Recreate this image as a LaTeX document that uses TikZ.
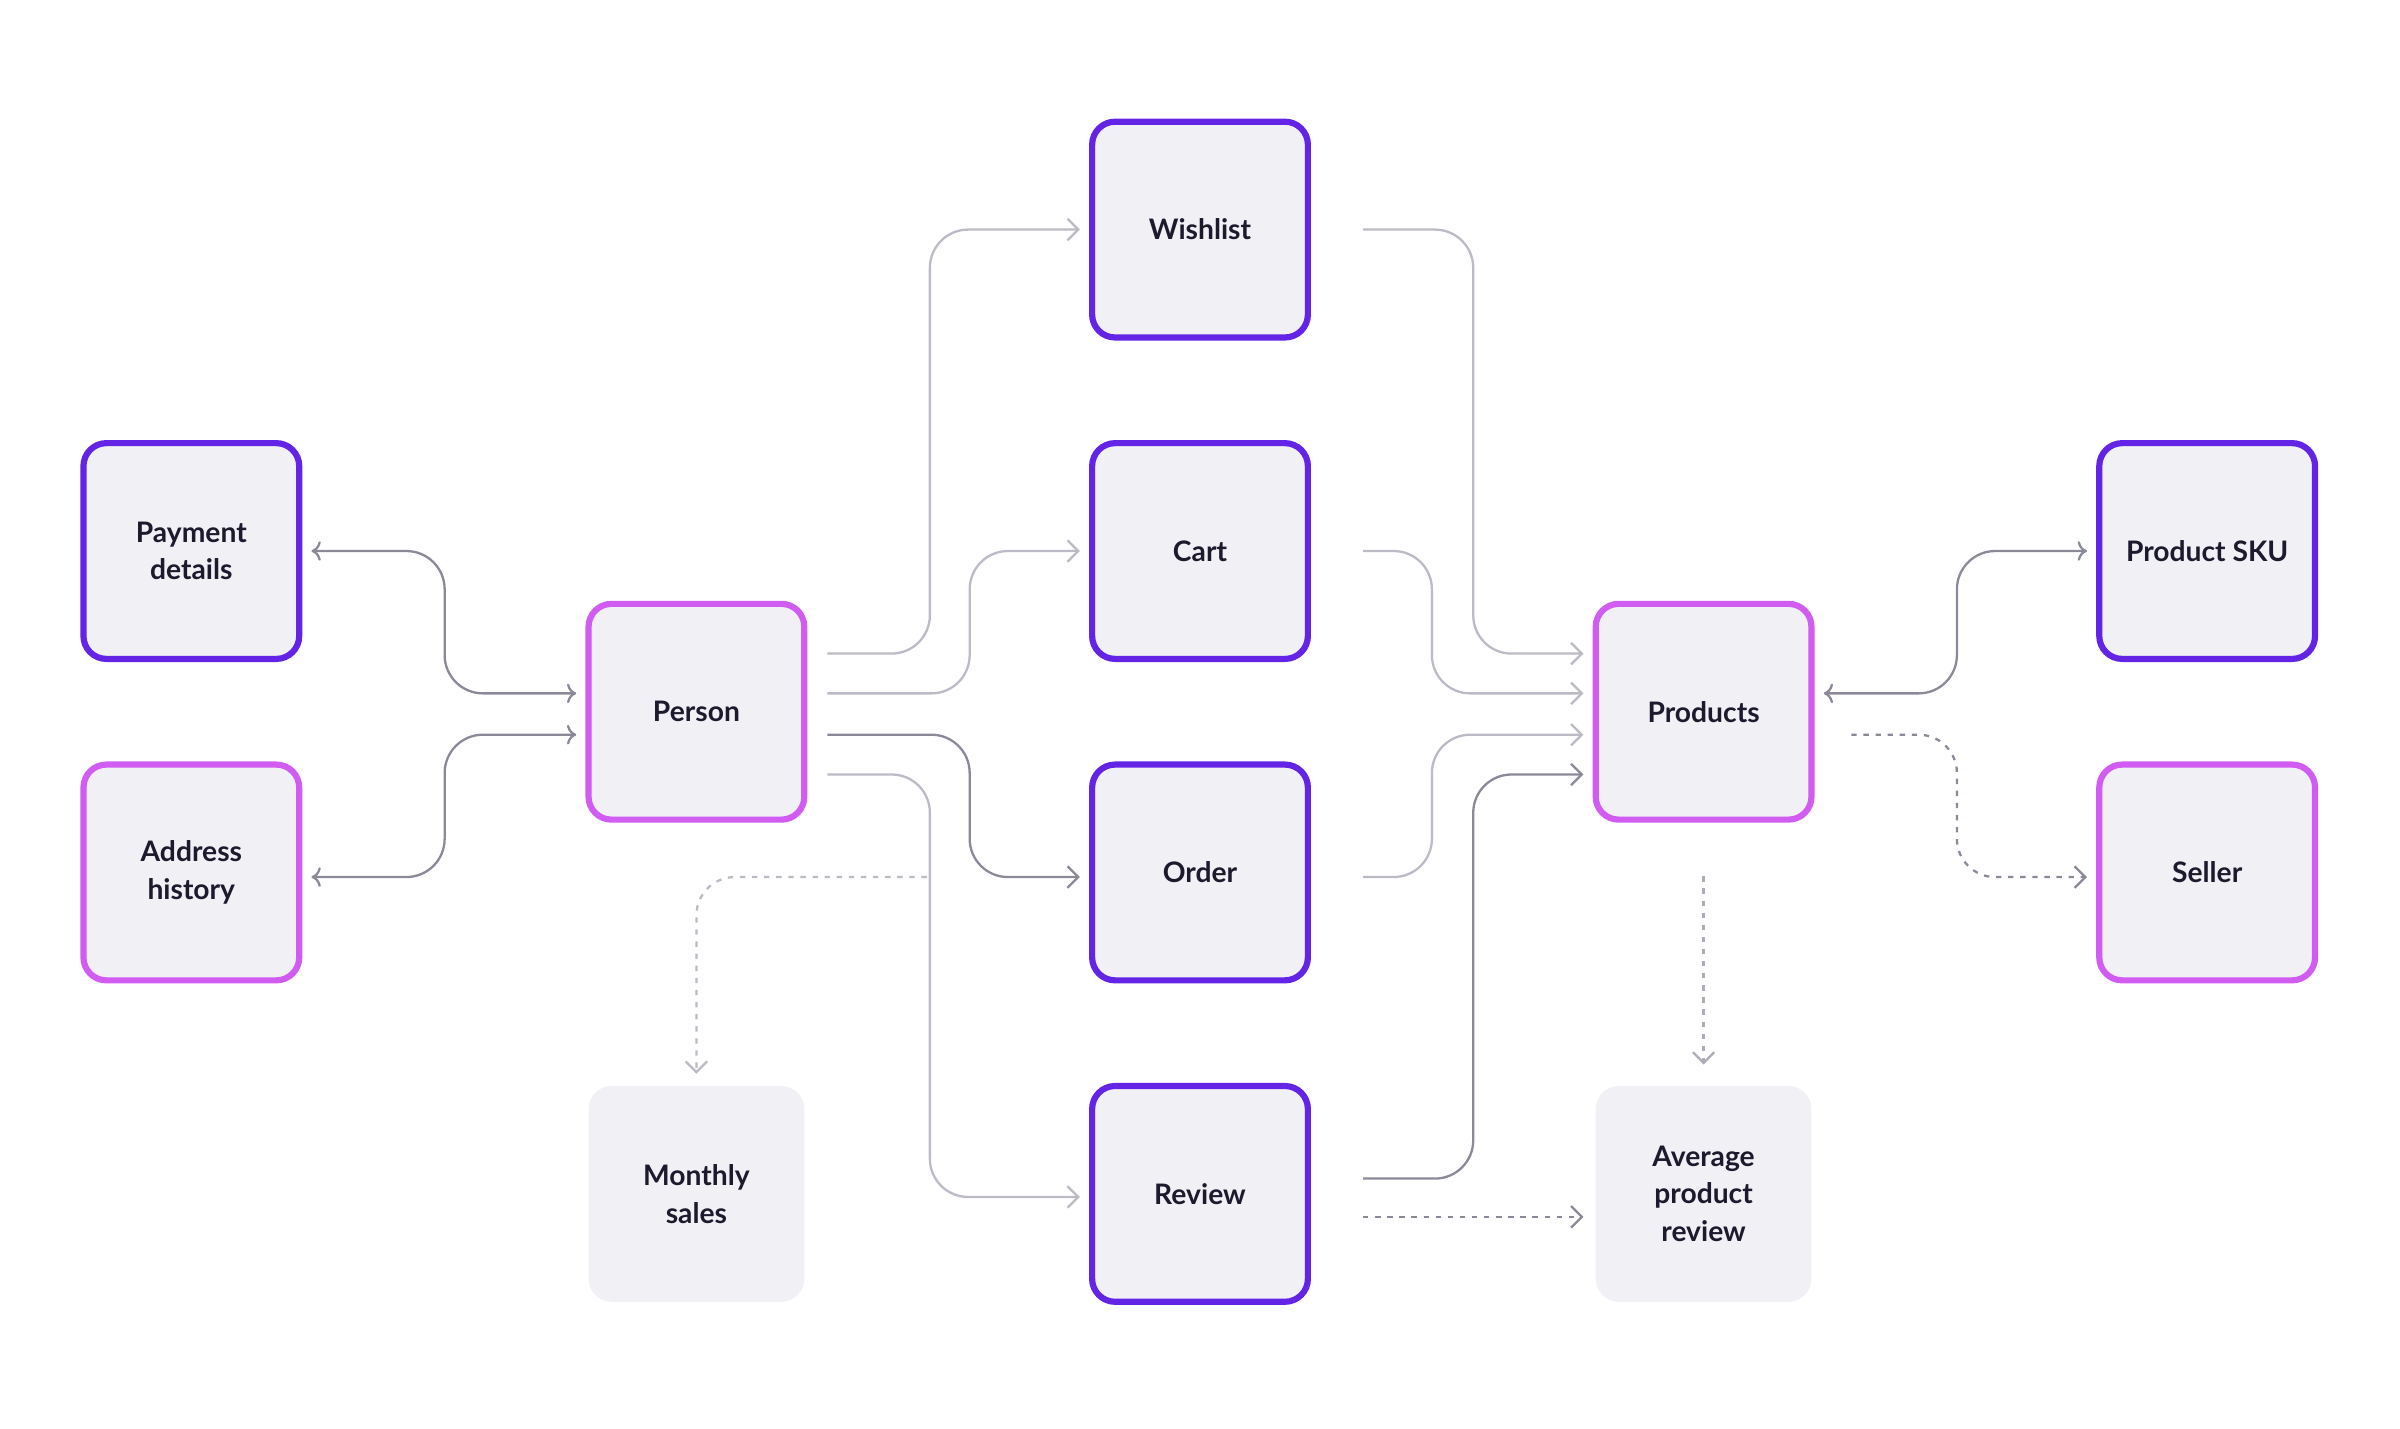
\documentclass[tikz,border=0pt]{standalone}
\usepackage{fontspec}
\setmainfont{Lato}
\usetikzlibrary{arrows.meta,positioning,calc}
\definecolor{deep}{HTML}{6324E6}
\definecolor{pink}{HTML}{D15CF2}
\definecolor{boxfill}{HTML}{F1F0F5}
\definecolor{ink}{HTML}{1E1A2E}
\definecolor{wire}{HTML}{8C8898}
\definecolor{faint}{HTML}{BDBAC5}

\tikzset{
  box/.style={rectangle, rounded corners=0.3cm, minimum width=2.82cm, minimum height=2.82cm,
    fill=boxfill, line width=2.3pt, align=center, text=ink,
    font=\fontsize{10.5}{14}\selectfont\bfseries},
  main/.style={box, draw=deep},
  core/.style={box, draw=pink},
  calc/.style={box, draw=none},
  conn/.style={wire, line width=0.85pt, rounded corners=0.5cm, -{Straight Barb[length=4pt,width=8pt]}},
  soft/.style={conn, faint},
  derived/.style={conn, dash pattern=on 2pt off 2.5pt}
}

\begin{document}
\begin{tikzpicture}[x=0.02cm,y=0.02cm]
    \useasboundingbox (0,0) rectangle (1568,-933);

    % Person side
    \node[main] (payment) at (125,-360) {Payment\\details};
    \node[core] (address) at (125,-570) {Address\\history};
    \node[core] (person) at (455,-465) {Person};
    \node[calc] (monthly) at (455,-780) {Monthly\\sales};

    % Activity column
    \node[main] (wishlist) at (784,-150) {Wishlist};
    \node[main] (cart) at (784,-360) {Cart};
    \node[main] (order) at (784,-570) {Order};
    \node[main] (review) at (784,-780) {Review};

    % Product side
    \node[core] (products) at (1113,-465) {Products};
    \node[calc] (average) at (1113,-780) {Average\\product\\review};
    \node[main] (sku) at (1442,-360) {Product SKU};
    \node[core] (seller) at (1442,-570) {Seller};

    % Person links
    \draw[conn,<->] ($(payment.east)+(6,0)$) -- ++(87,0) |- ($(person.west)+(-6,12)$);
    \draw[conn,<->] ($(address.east)+(6,-3)$) -- ++(87,0) |- ($(person.west)+(-6,-15)$);
    \draw[soft] ($(person.east)+(13,38)$) -- ++(67,0) |- ($(wishlist.west)+(-6,0)$);
    \draw[soft] ($(person.east)+(13,12)$) -- ++(93,0) |- ($(cart.west)+(-6,0)$);
    \draw[conn] ($(person.east)+(13,-15)$) -- ++(93,0) |- ($(order.west)+(-6,-3)$);
    \draw[soft] ($(person.east)+(13,-41)$) -- ++(67,0) |- ($(review.west)+(-6,-2)$);
    \draw[derived,faint] ($(person.east)+(78,-108)$) -| ($(monthly.north)+(0,6)$);

    % Activity links
    \draw[soft] ($(wishlist.east)+(34,0)$) -- ++(72,0) |- ($(products.west)+(-6,38)$);
    \draw[soft] ($(cart.east)+(34,0)$) -- ++(45,0) |- ($(products.west)+(-6,12)$);
    \draw[soft] ($(order.east)+(34,-3)$) -- ++(45,0) |- ($(products.west)+(-6,-15)$);
    \draw[conn] ($(review.east)+(34,10)$) -- ++(72,0) |- ($(products.west)+(-6,-41)$);
    \draw[derived] ($(review.east)+(34,-15)$) -- ($(average.west)+(-6,-15)$);

    % Product links
    \draw[conn,<->] ($(products.east)+(6,12)$) -- ++(87,0) |- ($(sku.west)+(-6,0)$);
    \draw[derived] ($(products.east)+(24,-15)$) -- ++(69,0) |- ($(seller.west)+(-6,-3)$);
    \draw[derived,wire!70] ($(products.south)+(0,-35)$) -- ($(average.north)+(0,12)$);
\end{tikzpicture}
\end{document}
